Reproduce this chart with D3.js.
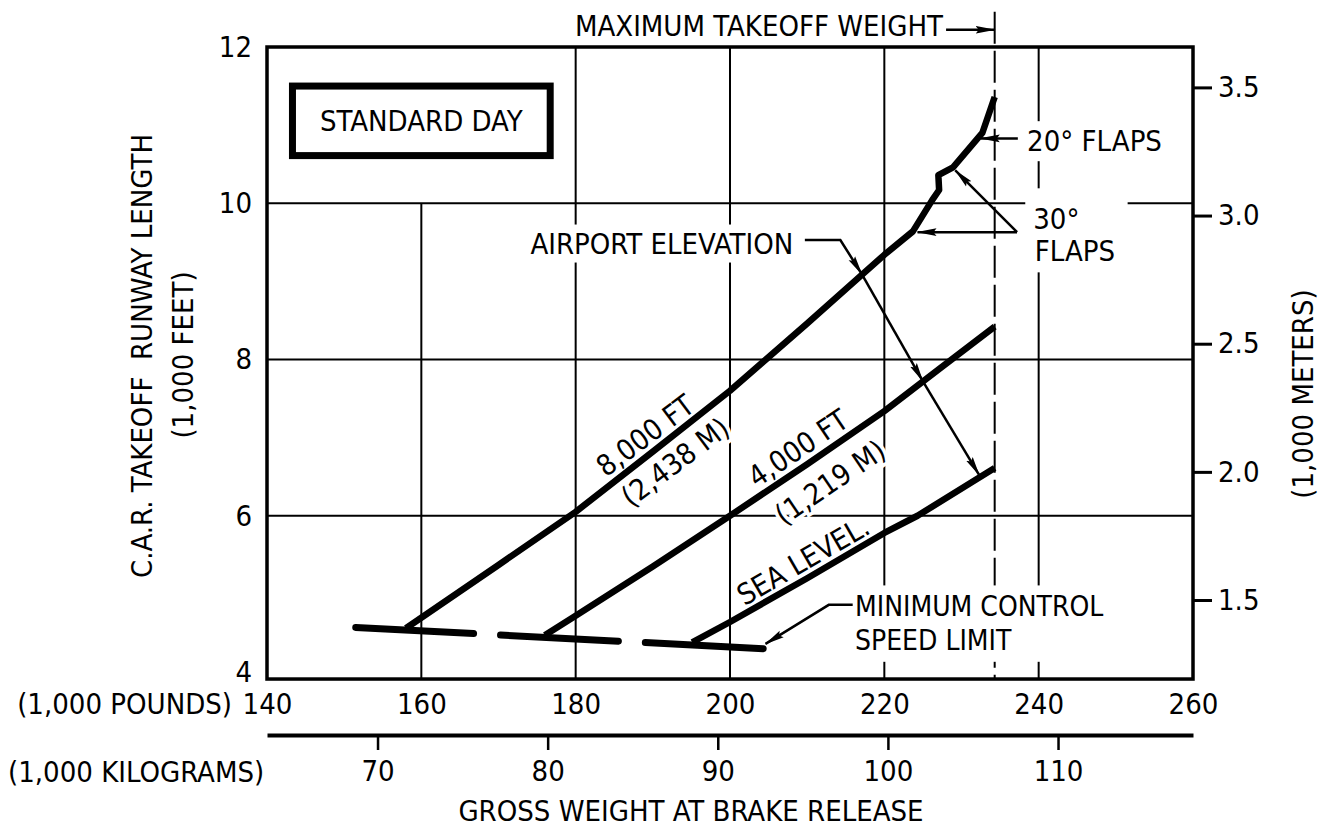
<!DOCTYPE html>
<html><head><meta charset="utf-8">
<script src="https://cdn.jsdelivr.net/npm/d3@7"></script>
<style>
html,body{margin:0;padding:0;background:#fff;}
svg{display:block;}
text{font-family:'Liberation Sans Narrow','DejaVu Sans Condensed','Roboto Condensed','DejaVu Sans Mono',sans-serif;fill:#000;font-size:29px;}
</style></head><body>
<svg id="chart" width="1329" height="829"></svg>
<script>
// ---------- data ----------
const weightTicksLb = [140,160,180,200,220,240,260];
const weightTicksKg = [70,80,90,100,110];
const runwayTicksFt = [4,6,8,10,12];
const runwayTicksM = [1.5,2.0,2.5,3.0,3.5];
const gridFt = [6,8,10];
const gridLb = [160,180,200,220,240];

const elev8000W = [158,170,180,190,200,210,220,223.7,226.2,227.1,227.0,228.9,232.7,234.3];
const elev8000L = [4.56,5.37,6.05,6.82,7.6,8.46,9.34,9.64,10.04,10.17,10.36,10.46,10.9,11.36];
const elev4000W = [176,180,190,200,210,220,227,234.3];
const elev4000L = [4.47,4.72,5.35,6.0,6.66,7.34,7.87,8.42];
const seaLevelW = [195.1,200,210,220,224.3,234.3];
const seaLevelL = [4.38,4.64,5.2,5.78,6.0,6.61];
const minControlW = [151.5,206];
const minControlL = [4.57,4.29];
const maxTakeoffWeight = 234.3;

// ---------- scales ----------
const W0=140, W1=260, L0=4, L1=12, Lbottom=3.91, Ltop=12.45;
const x = d3.scaleLinear().domain([W0,W1]).range([267,1193]);
const y = d3.scaleLinear().domain([L0,L1]).range([672,47]);
const LB2KG = 0.45359237, FT2M = 0.3048;
const xKg = d3.scaleLinear().domain([W0*LB2KG, W1*LB2KG]).range(x.range());
const yM = d3.scaleLinear().domain([L0*FT2M, L1*FT2M]).range(y.range());

const svg = d3.select('#chart');
const defs = svg.append('defs');
defs.append('marker').attr('id','arr').attr('markerUnits','userSpaceOnUse')
  .attr('viewBox','0 0 20 10').attr('markerWidth',20).attr('markerHeight',10)
  .attr('refX',19).attr('refY',5).attr('orient','auto')
  .append('path').attr('d','M0,1.2 L20,5 L0,8.8 L3,5 Z').attr('fill','#000');

const line = d3.line().x(d=>x(d[0])).y(d=>y(d[1]));
const zip = (a,b)=>a.map((v,i)=>[v,b[i]]);
const frameB = y(Lbottom), frameT = y(L1);

// ---------- grid ----------
const g = svg.append('g');
g.selectAll('.gh').data(gridFt).join('line')
  .attr('x1',x(W0)).attr('x2',x(W1)).attr('y1',d=>y(d)).attr('y2',d=>y(d))
  .attr('stroke','#000').attr('stroke-width',2);
g.selectAll('.gv').data(gridLb).join('line')
  .attr('x1',d=>x(d)).attr('x2',d=>x(d))
  .attr('y1',d=>d===160?y(10):frameT).attr('y2',frameB)
  .attr('stroke','#000').attr('stroke-width',2);
// max takeoff weight dashed line
g.append('line').attr('x1',x(maxTakeoffWeight)).attr('x2',x(maxTakeoffWeight))
  .attr('y1',y(Ltop)).attr('y2',frameB)
  .attr('stroke','#000').attr('stroke-width',2).attr('stroke-dasharray','32,7');

// masks + annotation texts
const ann = svg.append('g');
function label(lines, wx, wy, anchor, pad){
  const gg = ann.append('g');
  const rect = gg.append('rect').attr('fill','#fff');
  const t = gg.append('text').attr('text-anchor',anchor);
  lines.forEach((s,i)=>{
    t.append('tspan').attr('x',x(wx)).attr('y',y(wy[i])).attr('dy','0.36em').text(s);
  });
  if(pad!=null){
    const b = t.node().getBBox();
    rect.attr('x',b.x-pad[0]).attr('y',b.y-pad[1]).attr('width',b.width+pad[0]+pad[2]).attr('height',b.height+pad[1]+pad[3]);
  }
  return t;
}
label(['MAXIMUM TAKEOFF WEIGHT'],227.6,[12.27],'end',null);
label(['AIRPORT ELEVATION'],208.2,[9.49],'end',[6,2,8,2]);
label(['20° FLAPS'],238.5,[10.8],'start',[6,3,4,3]);
const t30 = label(['30°','FLAPS'],239.3,[9.80,9.39],'start',[8,14,14,4]);
t30.select('tspan:nth-child(2)').attr('x',x(239.5));
const tmc = label(['MINIMUM CONTROL','SPEED LIMIT'],216.2,[4.845,4.405],'start',[5,4,5,4]);
tmc.style('font-size','28px');

// ---------- frame ----------
svg.append('rect').attr('x',x(W0)).attr('y',frameT).attr('width',x(W1)-x(W0)).attr('height',frameB-frameT)
  .attr('fill','none').attr('stroke','#000').attr('stroke-width',3.5);

// standard day box
const bx0=x(143.3), bx1=x(176.7), by0=y(11.5), by1=y(10.61);
svg.append('rect').attr('x',bx0).attr('y',by0).attr('width',bx1-bx0).attr('height',by1-by0)
  .attr('fill','#fff').attr('stroke','#000').attr('stroke-width',7);
svg.append('text').attr('x',(bx0+bx1)/2).attr('y',(by0+by1)/2).attr('dy','0.36em')
  .attr('text-anchor','middle').text('STANDARD DAY');

// ---------- rotated curve labels ----------
const curveLabels = [
  ['8,000 FT',188.98,7.03,-37],
  ['(2,438 M)',192.87,6.69,-37],
  ['4,000 FT',208.81,6.87,-34],
  ['(1,219 M)',212.96,6.43,-34],
  ['SEA LEVEL.',209.46,5.43,-30]
];
svg.selectAll('.cl').data(curveLabels).join('text')
  .attr('transform',d=>`translate(${x(d[1])},${y(d[2])}) rotate(${d[3]})`)
  .attr('text-anchor','middle').attr('dy','0.36em')
  .attr('stroke','#fff').attr('stroke-width',7).attr('paint-order','stroke')
  .text(d=>d[0]);

// ---------- curves ----------
const curves = svg.append('g').attr('fill','none').attr('stroke','#000');
curves.append('path').attr('d',line(zip(elev8000W,elev8000L))).attr('stroke-width',6.5).attr('stroke-linejoin','round');
curves.append('path').attr('d',line(zip(elev4000W,elev4000L))).attr('stroke-width',6.5).attr('stroke-linejoin','round');
curves.append('path').attr('d',line(zip(seaLevelW,seaLevelL))).attr('stroke-width',6.5).attr('stroke-linejoin','round');
curves.append('path').attr('d',line(zip(minControlW,minControlL))).attr('stroke-width',7)
  .attr('stroke-linecap','round').attr('stroke-dasharray','118,27');

// ---------- annotation arrows ----------
const arrows = [
  [[228.0,12.22],[maxTakeoffWeight,12.22]],
  [[209.7,9.53],[214.3,9.53],[217.1,9.09]],
  [[217.1,9.09],[225.0,7.72]],
  [[225.0,7.72],[232.3,6.52]],
  [[215.9,4.86],[212.8,4.86],[204.6,4.36]],
  [[237.3,10.83],[232.5,10.83]],
  [[237.2,9.63],[224.3,9.63]],
  [[237.2,9.63],[229.2,10.42]]
];
svg.append('g').selectAll('path').data(arrows).join('path')
  .attr('d',d=>line(d)).attr('fill','none').attr('stroke','#000').attr('stroke-width',2.5)
  .attr('marker-end','url(#arr)');

// ---------- axes ----------
const axL = svg.append('g').attr('transform',`translate(${x(W0)},0)`)
  .call(d3.axisLeft(y).tickValues(runwayTicksFt).tickSize(0).tickPadding(15).tickFormat(d3.format('d')));
axL.select('.domain').remove();
axL.selectAll('text').style('font-size','29px').style('font-family',null);

const axR = svg.append('g').attr('transform',`translate(${x(W1)},0)`)
  .call(d3.axisRight(yM).tickValues(runwayTicksM).tickSize(19).tickPadding(6).tickFormat(d3.format('.1f')));
axR.select('.domain').remove();
axR.selectAll('line').attr('stroke','#000').attr('stroke-width',3);
axR.selectAll('text').style('font-size','29px').style('font-family',null);

const axB = svg.append('g').attr('transform',`translate(0,${frameB})`)
  .call(d3.axisBottom(x).tickValues(weightTicksLb).tickSize(0).tickPadding(14).tickFormat(d3.format('d')));
axB.select('.domain').remove();
axB.selectAll('text').style('font-size','29px').style('font-family',null);

const kgY = 735;
const axK = svg.append('g').attr('transform',`translate(0,${kgY})`)
  .call(d3.axisBottom(xKg).tickValues(weightTicksKg).tickSize(15).tickSizeOuter(0).tickPadding(10).tickFormat(d3.format('d')));
axK.select('.domain').attr('stroke','#000').attr('stroke-width',4);
axK.selectAll('line').attr('stroke','#000').attr('stroke-width',2.5);
axK.selectAll('text').style('font-size','29px').style('font-family',null);

// ---------- axis titles ----------
svg.append('text').attr('x',232).attr('y',frameB+25).attr('dy','0.36em').attr('text-anchor','end').text('(1,000 POUNDS)');
svg.append('text').attr('x',8).attr('y',kgY+37).attr('dy','0.36em').attr('text-anchor','start').text('(1,000 KILOGRAMS)');
svg.append('text').attr('x',691).attr('y',811).attr('dy','0.36em').attr('text-anchor','middle').text('GROSS WEIGHT AT BRAKE RELEASE');
svg.append('text').attr('transform','translate(142,356) rotate(-90)').attr('dy','0.36em').attr('text-anchor','middle').attr('xml:space','preserve').text('C.A.R. TAKEOFF  RUNWAY LENGTH');
svg.append('text').attr('transform','translate(183,355) rotate(-90)').attr('dy','0.36em').attr('text-anchor','middle').text('(1,000 FEET)');
svg.append('text').attr('transform','translate(1303,394) rotate(-90)').attr('dy','0.36em').attr('text-anchor','middle').text('(1,000 METERS)');
</script>
</body></html>
